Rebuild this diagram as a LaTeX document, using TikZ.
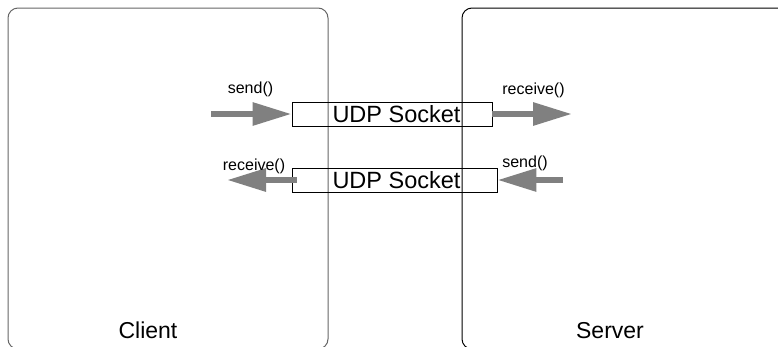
\documentclass[tikz,border=0pt]{standalone}
\usepackage{fontspec}
\setmainfont{Liberation Sans}
\usetikzlibrary{arrows.meta}
\begin{document}
\begin{tikzpicture}[x=1pt,y=-1pt,
  host/.style={rounded corners=10pt, line width=1pt},
  socketbox/.style={draw=black, line width=0.9pt, minimum width=200pt, minimum height=24pt,
    inner sep=0pt, font=\fontsize{23.5}{26}\selectfont},
  callarrow/.style={draw=black!50, line width=6pt,
    -{Triangle[length=39pt,width=22pt,fill=black!50]}},
  calllabel/.style={inner sep=0pt, font=\fontsize{16}{18}\selectfont},
  hostlabel/.style={inner sep=0pt, font=\fontsize{23}{26}\selectfont}]
\useasboundingbox (0,0) rectangle (778,346);
\clip (0,0) rectangle (778,346);
\fill[white] (0,0) rectangle (778,346);

% the two hosts
\draw[host, draw=black!60] (8,8) rectangle (328,349);
\draw[host, draw=black] (462,8) rectangle (800,349);
\node[hostlabel] (client) at (148,330.5) {Client};
\node[hostlabel] (server) at (610,330.5) {Server};

% sockets
\node[socketbox, minimum width=200pt] (sockA) at (392,114) {};
\node[inner sep=0pt, font=\fontsize{23.5}{26}\selectfont] (sockAtxt) at (396.5,114) {UDP Socket};
\node[socketbox, minimum width=205pt] (sockB) at (394.5,180) {};
\node[inner sep=0pt, font=\fontsize{23.5}{26}\selectfont] (sockBtxt) at (396.5,180) {UDP Socket};

% free ends of the calls
\coordinate (cSend) at (211,114);
\coordinate (sRecv) at (572,114);
\coordinate (cRecv) at (227,180);
\coordinate (sSend) at (563,180);

\draw[callarrow] (cSend) -- (sockA.west);
\draw[callarrow] (sockA.east) -- (sRecv);
\draw[callarrow] ([xshift=5pt]sockB.west) -- (cRecv);
\draw[callarrow] (sSend) -- (sockB.east);

\node[calllabel] (lSendC) at (250.5,89.5) {send()};
\node[calllabel] (lRecvS) at (533.5,90) {receive()};
\node[calllabel] (lRecvC) at (254,166) {receive()};
\node[calllabel] (lSendS) at (525,163) {send()};
\end{tikzpicture}
\end{document}
